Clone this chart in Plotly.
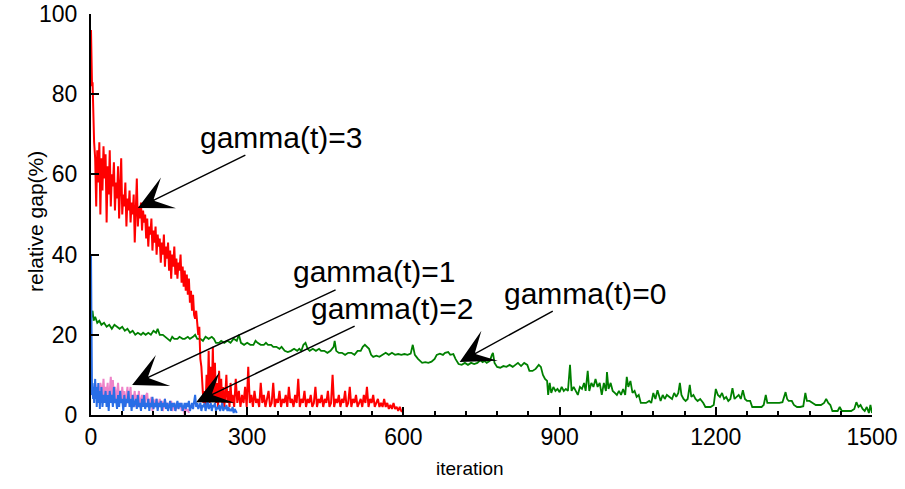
import plotly.graph_objects as go

# ---- data ----
red_pts = [(0,96),(1,85),(2,82),(3,83),(4,76),(5,71),(6,68),(8,64),(10,52),(12,66),(14,58),(16,68),(18,50),(20,64),(22,56),(24,67),(26,59),(28,65),(30,48),(32,62),(34,55),(36,66),(38,52),(40,60),(42,57),(44,63),(46,51),(48,58),(50,54),(52,62),(54,49),(56,57),(58,64),(60,50),(62,55),(64,52),(66,58),(68,47),(70,54),(72,51),(74,56),(76,48),(78,53),(80,50),(82,55),(84,43),(86,52),(88,59),(90,47),(92,52),(94,49),(96,53),(98,46),(100,51),(102,48),(104,50),(106,44),(108,49),(110,42),(112,47),(114,45),(116,49),(118,41),(120,46),(122,43),(124,47),(126,40),(128,45),(130,42),(132,44),(134,38),(136,43),(138,40),(140,45),(142,37),(144,42),(146,39),(148,43),(150,36),(152,41),(154,34),(156,40),(158,37),(160,42),(162,35),(164,39),(166,34),(168,38),(170,36),(172,40),(174,33),(176,37),(178,32),(180,36),(182,31),(184,35),(186,30),(188,34),(190,28),(192,31),(194,26),(196,30),(198,25),(200,24),(202,26),(204,23),(206,20),(208,22),(210,14),(212,12),(214,8),(216,3),(218,6),(220,2),(222,10),(224,4),(226,16),(228,3),(230,12),(232,5),(234,17),(236,4),(238,13),(240,3),(242,8),(244,2),(246,11),(248,4),(250,9),(252,3),(254,7),(256,2),(258,5),(260,10),(262,3),(264,6),(266,2),(268,8),(270,3),(272,5),(275,2),(278,9),(281,3),(284,6),(287,2),(290,5),(293,3),(296,7),(299,2),(302,12),(305,3),(308,5),(311,2),(314,6),(317,3),(320,4),(323,2),(326,8),(329,3),(332,5),(335,2),(338,4),(341,6),(344,2),(347,3),(350,8),(353,2),(356,4),(359,3),(362,6),(365,2),(368,4),(371,3),(374,5),(377,2),(380,7),(383,3),(386,4),(389,2),(392,5),(395,3),(398,9),(401,2),(404,4),(407,3),(410,6),(413,2),(416,4),(419,3),(422,5),(425,2),(428,3),(431,7),(434,2),(437,4),(440,3),(443,5),(446,2),(449,4),(452,3),(455,6),(458,2),(461,3),(464,10),(467,2),(470,4),(473,3),(476,5),(479,2),(482,4),(485,3),(488,6),(491,2),(494,3),(497,7),(500,2),(503,4),(506,3),(509,5),(512,2),(515,3),(518,4),(521,2),(524,5),(527,3),(530,7),(533,2),(536,4),(539,3),(542,5),(545,2),(548,3),(551,4),(554,2),(557,3),(560,2),(563,4),(566,2),(569,3),(572,1.5),(575,2.5),(578,1.5),(581,3),(584,1.5),(587,2),(590,1),(593,2),(596,1),(600,0.7)]

green_pts = [(0,24),(3,26),(5,23.5),(8,24.5),(12,23),(16,23.5),(20,22.5),(25,23),(30,22),(35,22.5),(40,21.5),(45,22.5),(50,22),(55,21.5),(60,22),(65,21),(70,21.5),(75,20.5),(80,21),(85,20),(90,20.5),(96,20),(100,20.5),(105,20),(110,20.5),(115,20),(120,21),(125,20.5),(128,21.5),(132,20),(138,20),(142,19.5),(148,19),(152,18.5),(156,19.5),(160,19),(166,19),(170,19.5),(176,19),(180,19),(186,19.5),(190,19),(196,19.5),(200,20),(204,19),(210,19),(215,18.5),(220,19.5),(226,19),(232,19.5),(236,19),(240,18),(246,18),(250,18.5),(256,18),(262,18.5),(268,18),(274,19),(280,18.5),(284,20),(288,18),(294,17.5),(300,18),(306,17.5),(312,17.5),(316,18.5),(320,18),(326,17.5),(332,17.5),(336,18),(340,17.5),(346,17.5),(350,17),(356,17),(362,16.5),(366,17),(372,16),(378,15.7),(384,16),(390,16.5),(396,16),(400,16.5),(404,16),(408,17.5),(412,18),(416,16.5),(420,16),(426,16.5),(432,16),(438,16.5),(442,16),(448,16),(454,15.5),(460,16),(466,17),(468,18.5),(471,16),(476,15.5),(482,15.5),(488,15),(494,15.5),(500,15.5),(506,15),(512,16),(518,16),(522,17),(526,17.5),(530,17),(534,16.5),(538,15),(542,14.5),(548,14.8),(554,14.5),(560,15),(566,15.5),(572,15),(578,15.5),(584,15),(590,15.2),(596,15),(602,15.2),(608,15),(614,15.3),(618,17.5),(622,15),(628,14),(632,13.5),(636,13),(642,13.2),(648,13),(654,13.3),(660,14),(664,15),(670,15.3),(676,15),(680,15.5),(686,15.7),(690,15),(696,15.2),(700,14),(706,12.7),(712,12.5),(718,13),(724,12.5),(730,13),(736,12.7),(742,13),(748,13.7),(752,13.2),(756,13.5),(760,13),(766,13.5),(770,15),(772,15.5),(775,13),(780,12),(786,11.8),(792,12.2),(798,12),(804,12.5),(810,12),(816,12.5),(820,13),(826,12.2),(832,13),(838,12.5),(842,11),(848,11),(854,11.5),(860,12.5),(864,12),(868,10),(872,9),(876,8.5),(878,5),(881,8),(884,5.5),(888,7),(892,6),(896,6.5),(900,5.7),(904,7),(908,6),(912,6.5),(916,6),(920,12.5),(923,6),(927,7),(931,6),(935,5),(939,7),(943,6.5),(947,8),(950,6),(954,11),(957,6),(961,8),(965,7),(969,9),(973,7),(977,8),(981,5),(985,8),(989,6),(991,10.7),(994,6.5),(998,8),(1002,6),(1006,5.5),(1010,5),(1014,6),(1018,5),(1022,6.5),(1026,5),(1029,9.5),(1032,7),(1036,8.5),(1040,5.5),(1044,6),(1048,4.5),(1052,5),(1056,3),(1060,3),(1066,3),(1072,3.5),(1076,3),(1080,5.5),(1084,4),(1088,6.2),(1091,4.5),(1094,3.5),(1098,5),(1102,4),(1106,5),(1110,4.5),(1116,4),(1120,5.5),(1124,4.5),(1128,5.5),(1131,8),(1134,5),(1138,4),(1142,3.5),(1146,4),(1150,7.5),(1153,4.5),(1157,5),(1161,4),(1165,3.5),(1170,4),(1176,3),(1180,2),(1184,2),(1190,2),(1196,2.5),(1200,6.5),(1204,5),(1208,4.5),(1212,5.5),(1216,4),(1220,4.5),(1224,3.5),(1228,4),(1232,6.7),(1236,4),(1240,4.5),(1244,5),(1248,4),(1252,6.2),(1256,4),(1260,3.5),(1266,3.5),(1270,2),(1276,2),(1282,2),(1288,2),(1292,2.5),(1296,5),(1299,3),(1304,3),(1310,3),(1316,3),(1322,3),(1328,3.2),(1334,5.7),(1337,4),(1340,3.5),(1346,3.5),(1350,2.5),(1356,2),(1362,2),(1368,2.2),(1372,5.5),(1375,3.5),(1380,3.5),(1386,3),(1392,2.5),(1396,2.5),(1402,2.5),(1408,3),(1412,4),(1416,3),(1420,2.5),(1424,1),(1428,1),(1434,1),(1438,2),(1442,1),(1448,1),(1454,1),(1460,1),(1466,1.5),(1470,3.2),(1474,2),(1478,2.5),(1482,1.5),(1486,1),(1490,2),(1494,0.5),(1497,2.5),(1500,0.5)]

pink_pts = [(0,6),(2,5),(4,7),(6,5),(8,8),(10,6),(12,5),(14,7),(16,4),(18,8),(20,6),(22,5),(24,9),(26,4),(28,7),(30,5),(32,8),(34,3),(36,6),(38,9.5),(40,5),(42,8.7),(44,4),(46,7),(48,3),(50,6),(52,8),(54,4),(56,6),(58,3),(60,7),(62,4),(64,6),(66,2),(68,5),(70,7),(72,3),(74,5),(76,7),(78,2),(80,5),(82,4),(84,6),(86,2),(88,5),(90,3),(92,6),(94,2),(96,4),(98,5),(100,2),(102,4),(104,3),(106,5),(108,5.5),(110,2),(112,4),(114,3),(116,4.5),(118,1),(120,4),(122,2),(124,3.5),(126,4),(128,1.5),(130,3),(132,4),(134,2),(136,3.5),(138,1),(140,3),(142,4),(144,2),(146,3),(148,1.5),(150,3),(152,2),(154,3.5),(156,1),(158,2.5),(160,3),(162,1),(164,2.5),(166,3),(168,1.5),(170,2.5),(172,3),(174,1),(176,2),(178,1.5),(180,0),(182,2),(184,1),(186,1.5),(188,0.5)]

blue_pts = [(0,40),(1,6),(2,5),(3,8),(4,4),(5,7),(6,3),(7,6),(8,9),(9,4),(10,7),(11,2),(12,6),(13,4),(14,8),(15,3),(16,5),(17,1.5),(18,6),(19,3),(20,7),(22,2),(24,5),(26,3),(28,6),(30,2),(32,5),(34,1),(36,6),(38,3),(40,5),(42,2),(44,7),(46,3),(48,4),(50,1.5),(52,5),(54,2),(56,6),(58,3),(60,4),(62,1),(64,5),(66,2),(68,4),(70,3),(72,6),(74,2),(76,4),(78,1),(80,5),(82,2),(84,3),(86,4),(88,1.5),(90,5),(92,2),(94,3),(96,1),(98,4),(100,2),(102,5),(104,1.5),(106,3),(108,2),(110,4),(112,1),(114,3),(116,2),(118,4.5),(120,1.5),(122,3),(124,2),(126,4),(128,1),(130,3),(132,2),(134,3.5),(136,1),(138,3),(140,2),(142,4),(144,1.5),(146,3),(148,1),(150,2.5),(152,3.5),(154,1),(156,3),(158,2),(160,3),(162,1),(164,2.5),(166,3.5),(168,1.5),(170,3),(172,2),(174,3),(176,1),(178,2.5),(180,3),(182,1.5),(184,3),(186,2),(188,3.5),(190,1),(192,2.5),(194,3),(196,1.5),(198,4),(200,5),(202,2),(204,3),(206,1.5),(208,2.5),(210,3),(212,1),(214,2.5),(216,2),(218,3),(220,1),(222,2.5),(224,3.5),(226,1.5),(228,2),(230,3),(232,1),(234,2.5),(236,2),(238,3),(240,1),(242,2),(244,1.5),(246,2.5),(248,1),(250,2),(252,3),(254,1),(256,2),(258,1.5),(260,2.5),(262,1),(264,2),(266,1),(268,1.5),(270,1),(272,2),(274,0.5),(276,1.5),(278,1),(280,0.5)]

x_ticks = [0, 300, 600, 900, 1200, 1500]
y_ticks = [0, 20, 40, 60, 80, 100]

labels = [
    # text, head x, head y, ax, ay
    ("gamma(t)=3", 90, 51.6, 144, -71),
    ("gamma(t)=1", 79, 7.5, 242, -113),
    ("gamma(t)=2", 202, 3.2, 196, -94),
    ("gamma(t)=0", 708, 13.2, 126, -69),
]

FONT = "Arial, Liberation Sans, sans-serif"

def xs(p): return [a for a, b in p]
def ys(p): return [b for a, b in p]

fig = go.Figure()
fig.add_trace(go.Scatter(x=xs(green_pts), y=ys(green_pts), mode="lines",
                         line=dict(color="#008000", width=1.8), name="gamma(t)=0"))
fig.add_trace(go.Scatter(x=xs(red_pts), y=ys(red_pts), mode="lines",
                         line=dict(color="#FF0000", width=2), name="gamma(t)=3"))
fig.add_trace(go.Scatter(x=xs(pink_pts), y=ys(pink_pts), mode="lines",
                         line=dict(color="#EE82C8", width=2), name="gamma(t)=1"))
fig.add_trace(go.Scatter(x=xs(blue_pts), y=ys(blue_pts), mode="lines",
                         line=dict(color="#2A6EE6", width=2), name="gamma(t)=2"))

for t, hx, hy, ax, ay in labels:
    fig.add_annotation(x=hx, y=hy, text=t, showarrow=True, ax=ax, ay=ay,
                       arrowhead=3, arrowsize=3.8, arrowwidth=1.5, arrowcolor="black",
                       font=dict(family=FONT, size=30, color="black"))

# axis titles as paper annotations for exact placement
fig.add_annotation(text="iteration", xref="paper", yref="paper", x=(470 - 91) / 781, y=-(468 - 415) / 401,
                   showarrow=False, font=dict(family=FONT, size=19, color="black"),
                   xanchor="center", yanchor="middle")
fig.add_annotation(text="relative gap(%)", xref="paper", yref="paper", x=-(91 - 35) / 781, y=(415 - 222) / 401,
                   showarrow=False, textangle=-90, font=dict(family=FONT, size=21, color="black"),
                   xanchor="center", yanchor="middle")

fig.update_layout(
    width=905, height=489,
    margin=dict(l=91, r=33, t=14, b=74),
    plot_bgcolor="white", paper_bgcolor="white",
    showlegend=False,
    font=dict(family=FONT, color="black"),
)
fig.update_xaxes(range=[0, 1500], tickvals=x_ticks, ticks="inside", ticklen=8, tickwidth=2,
                 tickcolor="black", showline=True, linecolor="black", linewidth=2,
                 showgrid=False, zeroline=False, tickfont=dict(size=23, family=FONT),
                 automargin=False, ticklabeloverflow="allow",
                 minor=dict(dtick=60, ticks="inside", ticklen=4, tickwidth=2, tickcolor="black", showgrid=False))
fig.update_yaxes(range=[0, 100], tickvals=y_ticks, ticks="inside", ticklen=8, tickwidth=2,
                 tickcolor="black", showline=True, linecolor="black", linewidth=2,
                 showgrid=False, zeroline=False, tickfont=dict(size=23, family=FONT),
                 ticklabelstandoff=7, ticklabeloverflow="allow",
                 automargin=False)

# remove the default page margin so the figure sits at the window's top-left corner
fig.write_html("out.html", config={"displayModeBar": False},
               post_script="document.body.style.margin='0';")
